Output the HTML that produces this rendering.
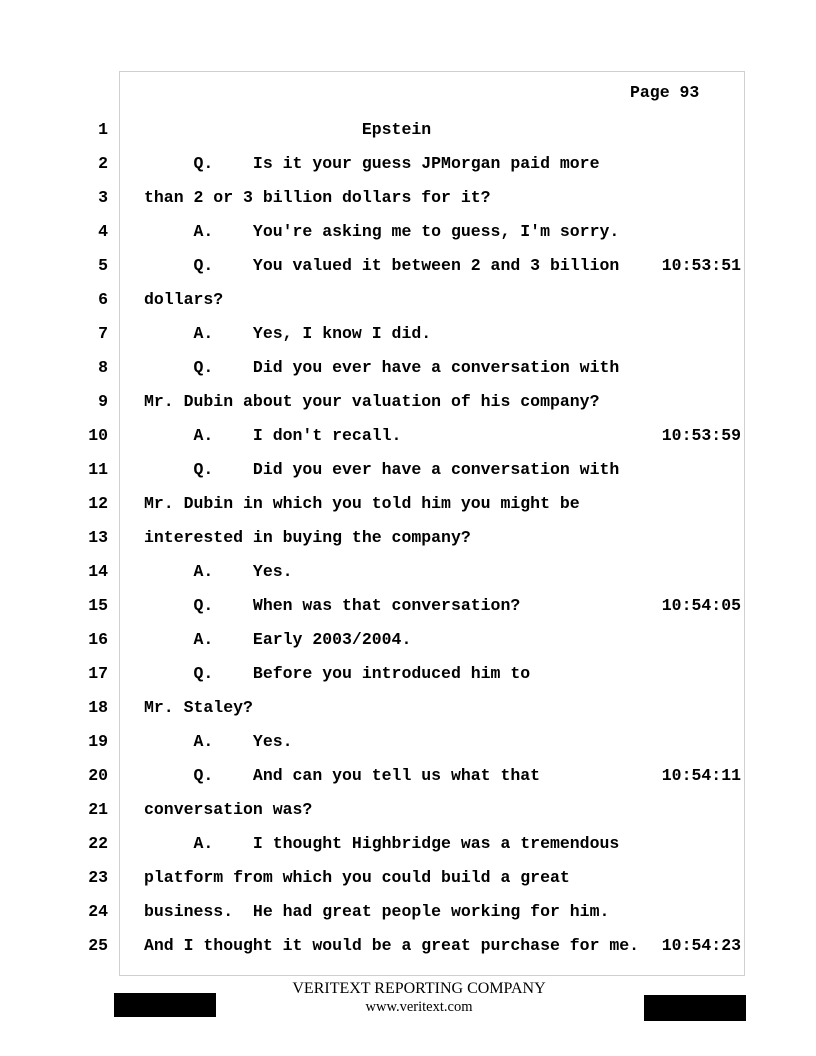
<!DOCTYPE html>
<html><head><meta charset="utf-8"><style>
html,body{margin:0;padding:0;background:#fff;}
body{width:816px;height:1056px;position:relative;overflow:hidden;}
.frame{position:absolute;left:119px;top:71px;width:624px;height:903px;border:1px solid #cfcfcf;}
.t{position:absolute;font-family:"Liberation Mono",monospace;font-weight:bold;font-size:16.5px;line-height:20px;white-space:pre;color:#000;}
.n{position:absolute;font-family:"Liberation Mono",monospace;font-weight:bold;font-size:16.5px;line-height:20px;width:30px;text-align:right;left:78px;}
.ts{position:absolute;font-family:"Liberation Mono",monospace;font-weight:bold;font-size:16.5px;line-height:20px;right:75px;}
.f{position:absolute;font-family:"Liberation Serif",serif;width:816px;left:0;text-align:center;}
.blk{position:absolute;background:#000;}
</style></head><body>
<div class="frame"></div>
<div class="t" style="left:630px;top:83px">Page 93</div>
<div id="c"></div>
<div class="f" style="top:980px;font-size:16px;left:11px">VERITEXT REPORTING COMPANY</div>
<div class="f" style="top:999px;font-size:14.5px;left:11px">www.veritext.com</div>
<div class="blk" style="left:114px;top:993px;width:102px;height:24px"></div>
<div class="blk" style="left:644px;top:995px;width:102px;height:26px"></div>
<script>
var L=[
["                      Epstein",""],
["     Q.    Is it your guess JPMorgan paid more",""],
["than 2 or 3 billion dollars for it?",""],
["     A.    You're asking me to guess, I'm sorry.",""],
["     Q.    You valued it between 2 and 3 billion","10:53:51"],
["dollars?",""],
["     A.    Yes, I know I did.",""],
["     Q.    Did you ever have a conversation with",""],
["Mr. Dubin about your valuation of his company?",""],
["     A.    I don't recall.","10:53:59"],
["     Q.    Did you ever have a conversation with",""],
["Mr. Dubin in which you told him you might be",""],
["interested in buying the company?",""],
["     A.    Yes.",""],
["     Q.    When was that conversation?","10:54:05"],
["     A.    Early 2003/2004.",""],
["     Q.    Before you introduced him to",""],
["Mr. Staley?",""],
["     A.    Yes.",""],
["     Q.    And can you tell us what that","10:54:11"],
["conversation was?",""],
["     A.    I thought Highbridge was a tremendous",""],
["platform from which you could build a great",""],
["business.  He had great people working for him.",""],
["And I thought it would be a great purchase for me.","10:54:23"]];
var h="";
for(var i=0;i<L.length;i++){var y=120+34*i;
h+='<div class="n" style="top:'+y+'px">'+(i+1)+'</div>';
h+='<div class="t" style="left:144px;top:'+y+'px">'+L[i][0].replace(/&/g,"&amp;").replace(/</g,"&lt;")+'</div>';
if(L[i][1])h+='<div class="ts" style="top:'+y+'px">'+L[i][1]+'</div>';}
document.getElementById("c").innerHTML=h;
</script>
</body></html>
